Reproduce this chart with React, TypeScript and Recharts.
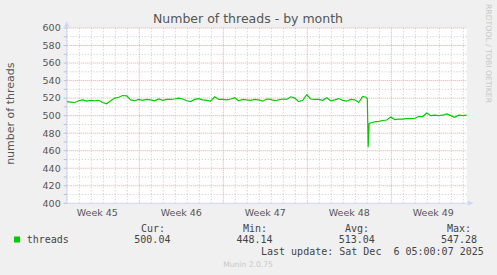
import {
  Line,
  LineChart,
  ReferenceArea,
  ReferenceDot,
  ReferenceLine,
  XAxis,
  YAxis,
} from "recharts";

// [day since left edge, threads]
const samples: [number, number][] = [
  [0, 516], [0.33, 515.5], [0.67, 515], [1, 517], [1.33, 518], [1.67, 516.5],
  [2, 517.5], [2.33, 517], [2.67, 517.5], [3, 515], [3.33, 513.5], [3.67, 517],
  [4, 520], [4.33, 521], [4.67, 523], [5, 522.5], [5.33, 518], [5.67, 517],
  [6, 518.5], [6.33, 517.5], [6.67, 518.5], [7, 518], [7.33, 517], [7.67, 519],
  [8, 517.5], [8.33, 518.5], [8.67, 518.5], [9, 519], [9.33, 520], [9.67, 519],
  [10, 517], [10.33, 516], [10.67, 518.5], [11, 519.5], [11.33, 518], [11.67, 517.5],
  [12, 516.5], [12.33, 521.5], [12.67, 518.5], [13, 518.5], [13.33, 518], [13.67, 519],
  [14, 520.5], [14.33, 517], [14.67, 518.5], [15, 518], [15.33, 517.5], [15.67, 518.5],
  [16, 518], [16.33, 516.5], [16.67, 519], [17, 518.5], [17.33, 517], [17.67, 518],
  [18, 519], [18.33, 518.5], [18.67, 521.5], [19, 520], [19.33, 516], [19.67, 517.5],
  [20, 524], [20.33, 519], [20.67, 518.5], [21, 518.5], [21.33, 517.5], [21.67, 520.5],
  [22, 517], [22.33, 518], [22.67, 519.5], [23, 517.5], [23.33, 516.5], [23.67, 518.5],
  [24, 518], [24.33, 515], [24.67, 522], [24.95, 521], [25.05, 519], [25.12, 464],
  [25.2, 491], [25.67, 493], [26, 493.5], [26.33, 494.5], [26.67, 495], [27, 498.5],
  [27.33, 495.5], [27.67, 496], [28, 496], [28.33, 496.5], [28.67, 496.5], [29, 497],
  [29.33, 499], [29.67, 499], [30, 503], [30.33, 500], [30.67, 500.5], [31, 500],
  [31.33, 500.5], [31.67, 502], [32, 500], [32.33, 498], [32.67, 500.5], [33, 500],
  [33.33, 500.5],
];

const weekMids = [2.55, 9.55, 16.55, 23.55, 30.55];
const weekLabels = ["Week 45", "Week 46", "Week 47", "Week 48", "Week 49"];
const weekStarts = [6.05, 13.05, 20.05, 27.05];
const yTicks = [400, 410, 420, 430, 440, 450, 460, 470, 480, 490, 500, 510, 520, 530, 540, 550, 560, 570, 580, 590, 600];
const yLabelled = [400, 420, 440, 460, 480, 500, 520, 540, 560, 580, 600];

const legendHeads = ["Cur:", "Min:", "Avg:", "Max:"];
const legendValues = ["500.04", "448.14", "513.04", "547.28"];

const data = samples.map(([day, threads]) => ({ day, threads }));
const dayLines = Array.from({ length: 34 }, (_, i) => i + 0.05).filter(
  (d) => !weekStarts.includes(d),
);

const FONT = "DejaVu Sans";
const MONO = "DejaVu Sans Mono";
const AXIS = "#CFD6F8";
const MINOR = "#c4c4c4";
const MAJOR = "#e8a4a4";

const UpArrow = (p: any) => (
  <polygon points={`${p.cx - 2.5},${p.cy - 1} ${p.cx + 2.5},${p.cy - 1} ${p.cx},${p.cy - 7}`} fill={AXIS} />
);
const RightArrow = (p: any) => (
  <polygon points={`${p.cx + 1},${p.cy - 2.5} ${p.cx + 1},${p.cy + 2.5} ${p.cx + 7},${p.cy}`} fill={AXIS} />
);

export default function App() {
  return (
    <div style={{ position: "absolute", left: 0, top: 0, width: 497, height: 275, background: "#f0f0f0" }}>
      <LineChart
        width={497}
        height={275}
        data={data}
        margin={{ top: 28, right: 30.3, bottom: 51.7, left: 0 }}
      >
        <ReferenceArea x1={0} x2={33.33} y1={400} y2={600} fill="#fff" fillOpacity={1} stroke="none" />
        {dayLines.map((d) => (
          <ReferenceLine key={"d" + d} x={d} stroke={MINOR} strokeDasharray="1 2" />
        ))}
        {yTicks.filter((v) => !yLabelled.includes(v)).map((v) => (
          <ReferenceLine key={"m" + v} y={v} stroke={MINOR} strokeDasharray="1 2" />
        ))}
        {weekStarts.map((d) => (
          <ReferenceLine key={"w" + d} x={d} stroke={MAJOR} strokeDasharray="1 1" />
        ))}
        {yLabelled.filter((v) => v !== 400).map((v) => (
          <ReferenceLine key={"M" + v} y={v} stroke={MAJOR} strokeDasharray="1 1" />
        ))}
        <XAxis
          dataKey="day"
          type="number"
          domain={[0, 33.33]}
          ticks={weekMids}
          tickFormatter={(v: number) => weekLabels[weekMids.indexOf(v)] ?? ""}
          tickLine={false}
          tickSize={0}
          tickMargin={6}
          height={20}
          axisLine={{ stroke: AXIS }}
          tick={{ fill: "#555", fontSize: 9.5, fontFamily: FONT }}
        />
        <YAxis
          type="number"
          domain={[400, 600]}
          ticks={yTicks}
          interval={0}
          width={66.7}
          tickSize={3}
          tickMargin={3}
          tickLine={{ stroke: "#c0c0c0" }}
          tickFormatter={(v: number) => (yLabelled.includes(v) ? String(v) : "")}
          axisLine={{ stroke: AXIS }}
          tick={{ fill: "#555", fontSize: 9.5, fontFamily: FONT }}
        />
        <Line
          type="linear"
          dataKey="threads"
          stroke="#00CC00"
          strokeWidth={1.2}
          dot={false}
          isAnimationActive={false}
        />
        <ReferenceDot x={0} y={600} r={0} shape={UpArrow} />
        <ReferenceDot x={33.33} y={400} r={0} shape={RightArrow} />
      </LineChart>
      <svg
        width={497}
        height={275}
        style={{ position: "absolute", left: 0, top: 0, pointerEvents: "none" }}
      >
        <text x={248} y={23} textAnchor="middle" fontFamily={FONT} fontSize={12.5} fill="#555">
          Number of threads - by month
        </text>
        <text
          transform="translate(13.5 113.7) rotate(-90)"
          textAnchor="middle"
          fontFamily={FONT}
          fontSize={11}
          fill="#555"
        >
          number of threads
        </text>
        <text
          transform="translate(486.4 53.5) rotate(90)"
          textAnchor="middle"
          fontFamily={FONT}
          fontSize={7.7}
          fill="#c8c8c8"
        >
          RRDTOOL / TOBI OETIKER
        </text>
        <rect x={14} y={236.5} width={6} height={6} fill="#00CC00" />
        <text x={26.7} y={242.7} fontFamily={MONO} fontSize={10} fill="#444">
          threads
        </text>
        {legendHeads.map((h, i) => (
          <text key={h} x={141 + i * 102} y={232} fontFamily={MONO} fontSize={10} fill="#444">
            {h}
          </text>
        ))}
        {legendValues.map((v, i) => (
          <text key={v} x={134.3 + i * 102.2} y={242.7} fontFamily={MONO} fontSize={10} fill="#444">
            {v}
          </text>
        ))}
        <text x={261} y={255} fontFamily={MONO} fontSize={10} fill="#444" style={{ whiteSpace: "pre" }}>
          Last update: Sat Dec  6 05:00:07 2025
        </text>
        <text x={248} y={267} textAnchor="middle" fontFamily={FONT} fontSize={7.6} fill="#c8c8c8">
          Munin 2.0.75
        </text>
      </svg>
    </div>
  );
}
